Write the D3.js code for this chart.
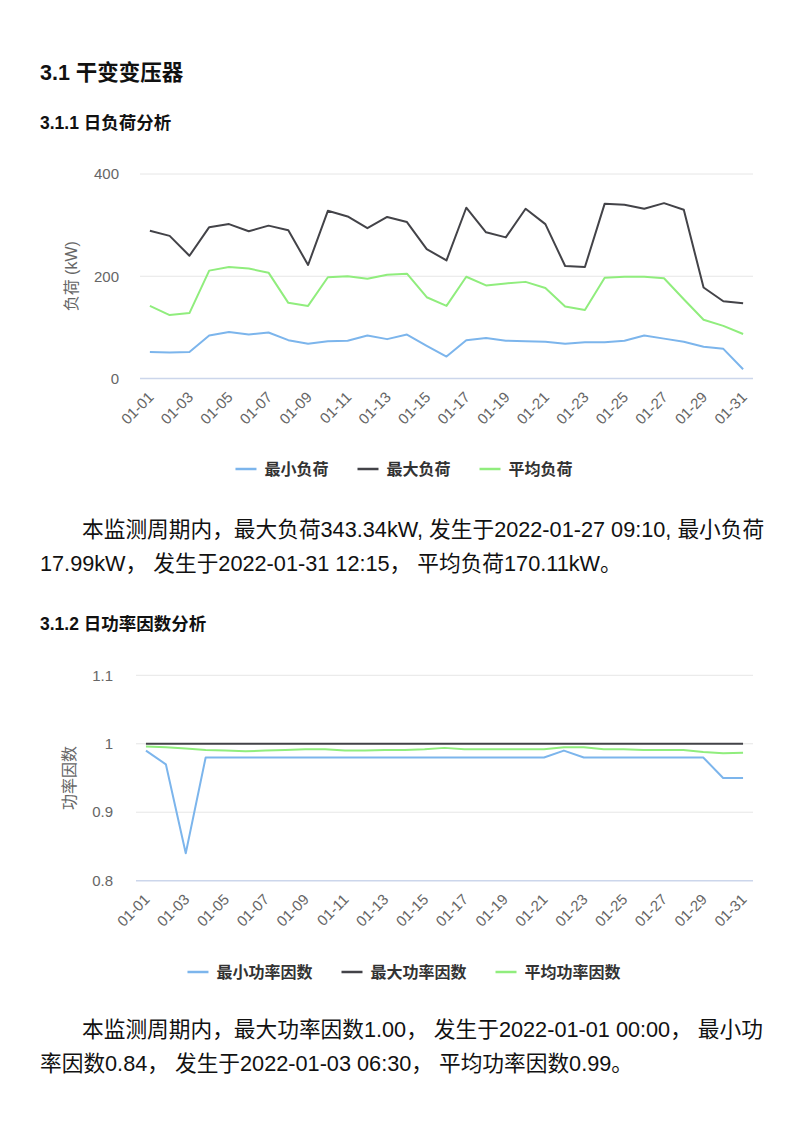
<!DOCTYPE html>
<html>
<head>
<meta charset="utf-8">
<script src="https://cdn.jsdelivr.net/npm/d3@7/dist/d3.min.js"></script>
<style>
  body { margin: 0; background: #fff; font-family: "Liberation Sans", Arial, "Noto Sans CJK SC", sans-serif; }
  #page { position: relative; width: 808px; height: 1139px; overflow: hidden; }
  .h { position: absolute; left: 40px; font-weight: bold; color: #111; white-space: nowrap; }
  .p { position: absolute; left: 40px; font-size: 21.7px; line-height: 34px; color: #111; white-space: nowrap; }
  svg { position: absolute; left: 0; }
</style>
</head>
<body>
<div id="page">
  <div class="h" style="top:55px;font-size:21.5px;">3.1 干变变压器</div>
  <div class="h" style="top:109px;font-size:17.5px;">3.1.1 日负荷分析</div>
  <div class="p" style="top:513px;"><span style="padding-left:42px"></span>本监测周期内，最大负荷343.34kW, 发生于2022-01-27 09:10, 最小负荷<br>17.99kW， 发生于2022-01-31 12:15， 平均负荷170.11kW。</div>
  <div class="h" style="top:610px;font-size:17.5px;">3.1.2 日功率因数分析</div>
  <div class="p" style="top:1013px;"><span style="padding-left:42px"></span>本监测周期内，最大功率因数1.00， 发生于2022-01-01 00:00， 最小功<br>率因数0.84， 发生于2022-01-03 06:30， 平均功率因数0.99。</div>
  <svg id="chart1" width="808" height="360" style="top:140px"></svg>
  <svg id="chart2" width="808" height="360" style="top:640px"></svg>
</div>
<script>
// 日期
var days = d3.range(1, 32).map(function (d) { return "01-" + (d < 10 ? "0" + d : "" + d); });

// 日负荷 (kW)
var loadMin = [52, 51, 52, 84, 91, 86, 90, 75, 68, 73, 74, 84, 77, 86, 64, 43, 75, 79, 74, 73, 72, 68, 71, 71, 74, 84, 78, 72, 62, 58, 18];
var loadMax = [289, 279, 240, 296, 302, 288, 299, 290, 222, 328, 317, 294, 316, 306, 253, 231, 334, 286, 276, 332, 302, 220, 218, 342, 340, 332, 343, 330, 178, 151, 147];
var loadAvg = [142, 124, 128, 211, 218, 215, 207, 148, 142, 198, 200, 195, 203, 205, 159, 142, 199, 182, 186, 189, 177, 141, 134, 197, 199, 199, 196, 155, 115, 103, 87];
var loadTicks = [0, 200, 400];

// 日功率因数
var pfMin = [0.99, 0.97, 0.84, 0.98, 0.98, 0.98, 0.98, 0.98, 0.98, 0.98, 0.98, 0.98, 0.98, 0.98, 0.98, 0.98, 0.98, 0.98, 0.98, 0.98, 0.98, 0.99, 0.98, 0.98, 0.98, 0.98, 0.98, 0.98, 0.98, 0.95, 0.95];
var pfMax = [1, 1, 1, 1, 1, 1, 1, 1, 1, 1, 1, 1, 1, 1, 1, 1, 1, 1, 1, 1, 1, 1, 1, 1, 1, 1, 1, 1, 1, 1, 1];
var pfAvg = [0.996, 0.995, 0.993, 0.991, 0.990, 0.989, 0.990, 0.991, 0.992, 0.992, 0.990, 0.990, 0.991, 0.991, 0.992, 0.994, 0.992, 0.992, 0.992, 0.992, 0.992, 0.995, 0.995, 0.992, 0.992, 0.991, 0.991, 0.991, 0.988, 0.986, 0.987];
var pfTicks = [0.8, 0.9, 1, 1.1];

var colors = ["#7cb5ec", "#434348", "#90ed7d"];

function drawChart(sel, opt) {
    var svg = d3.select(sel);

    var x = d3.scalePoint()
        .domain(days)
        .range([opt.left, opt.right])
        .padding(0.5);

    var y = d3.scaleLinear()
        .domain(opt.domain)
        .range([opt.bottom, opt.top]);

    // 网格线
    svg.append("g")
        .selectAll("line")
        .data(opt.ticks.slice(1))
        .enter()
        .append("line")
        .attr("x1", opt.left)
        .attr("x2", opt.right)
        .attr("y1", function (d) { return y(d); })
        .attr("y2", function (d) { return y(d); })
        .style("stroke", "#e6e6e6")
        .style("stroke-width", "1px");

    // x轴线
    svg.append("line")
        .attr("x1", opt.left)
        .attr("x2", opt.right)
        .attr("y1", opt.bottom)
        .attr("y2", opt.bottom)
        .style("stroke", "#ccd6eb")
        .style("stroke-width", "1.5px");

    // y轴刻度
    svg.append("g")
        .selectAll("text")
        .data(opt.ticks)
        .enter()
        .append("text")
        .attr("x", opt.labelX)
        .attr("y", function (d) { return y(d); })
        .attr("dy", "0.35em")
        .attr("text-anchor", "end")
        .text(opt.format)
        .style("font-size", "15px")
        .style("fill", "#666");

    // y轴标题
    svg.append("text")
        .attr("transform", "translate(" + opt.titleX + "," + ((opt.top + opt.bottom) / 2) + ") rotate(-90)")
        .attr("text-anchor", "middle")
        .attr("dy", "0.35em")
        .text(opt.yTitle)
        .style("font-size", "16px")
        .style("fill", "#666");

    // x轴刻度 (隔一个显示)
    svg.append("g")
        .selectAll("text")
        .data(days.filter(function (d, i) { return i % 2 === 0; }))
        .enter()
        .append("text")
        .attr("transform", function (d) {
            return "translate(" + (x(d) + 1) + "," + (opt.bottom + 16) + ") rotate(-45)";
        })
        .attr("text-anchor", "end")
        .attr("dy", "0.35em")
        .text(function (d) { return d; })
        .style("font-size", "15px")
        .style("fill", "#666");

    // 折线
    var line = d3.line()
        .x(function (d, i) { return x(days[i]); })
        .y(function (d) { return y(d); });

    opt.series.forEach(function (s, k) {
        svg.append("path")
            .datum(s)
            .attr("d", line)
            .style("fill", "none")
            .style("stroke", colors[k])
            .style("stroke-width", "2px")
            .style("stroke-linejoin", "round");
    });

    // 图例
    var legend = svg.append("g");
    var cx = 0;
    opt.names.forEach(function (name, k) {
        var g = legend.append("g").attr("transform", "translate(" + cx + ",0)");
        g.append("line")
            .attr("x1", 0).attr("x2", 21)
            .attr("y1", 0).attr("y2", 0)
            .style("stroke", colors[k])
            .style("stroke-width", "2.5px");
        var t = g.append("text")
            .attr("x", 29)
            .attr("dy", "0.35em")
            .text(name)
            .style("font-size", "16px")
            .style("font-weight", "bold")
            .style("fill", "#333");
        cx += 29 + t.node().getComputedTextLength() + 29;
    });
    var totalW = cx - 29;
    legend.attr("transform", "translate(" + (404 - totalW / 2) + "," + opt.legendY + ")");
}

drawChart("#chart1", {
    left: 140, right: 753, top: 34, bottom: 238.5,
    domain: [0, 400], ticks: loadTicks,
    format: function (d) { return d; },
    labelX: 119, titleX: 71, yTitle: "负荷 (kW)",
    series: [loadMin, loadMax, loadAvg],
    names: ["最小负荷", "最大负荷", "平均负荷"],
    legendY: 329
});

drawChart("#chart2", {
    left: 136, right: 753, top: 35.3, bottom: 240.7,
    domain: [0.8, 1.1], ticks: pfTicks,
    format: function (d) { return +d.toFixed(1); },
    labelX: 113, titleX: 69, yTitle: "功率因数",
    series: [pfMin, pfMax, pfAvg],
    names: ["最小功率因数", "最大功率因数", "平均功率因数"],
    legendY: 332
});
</script>
</body>
</html>
